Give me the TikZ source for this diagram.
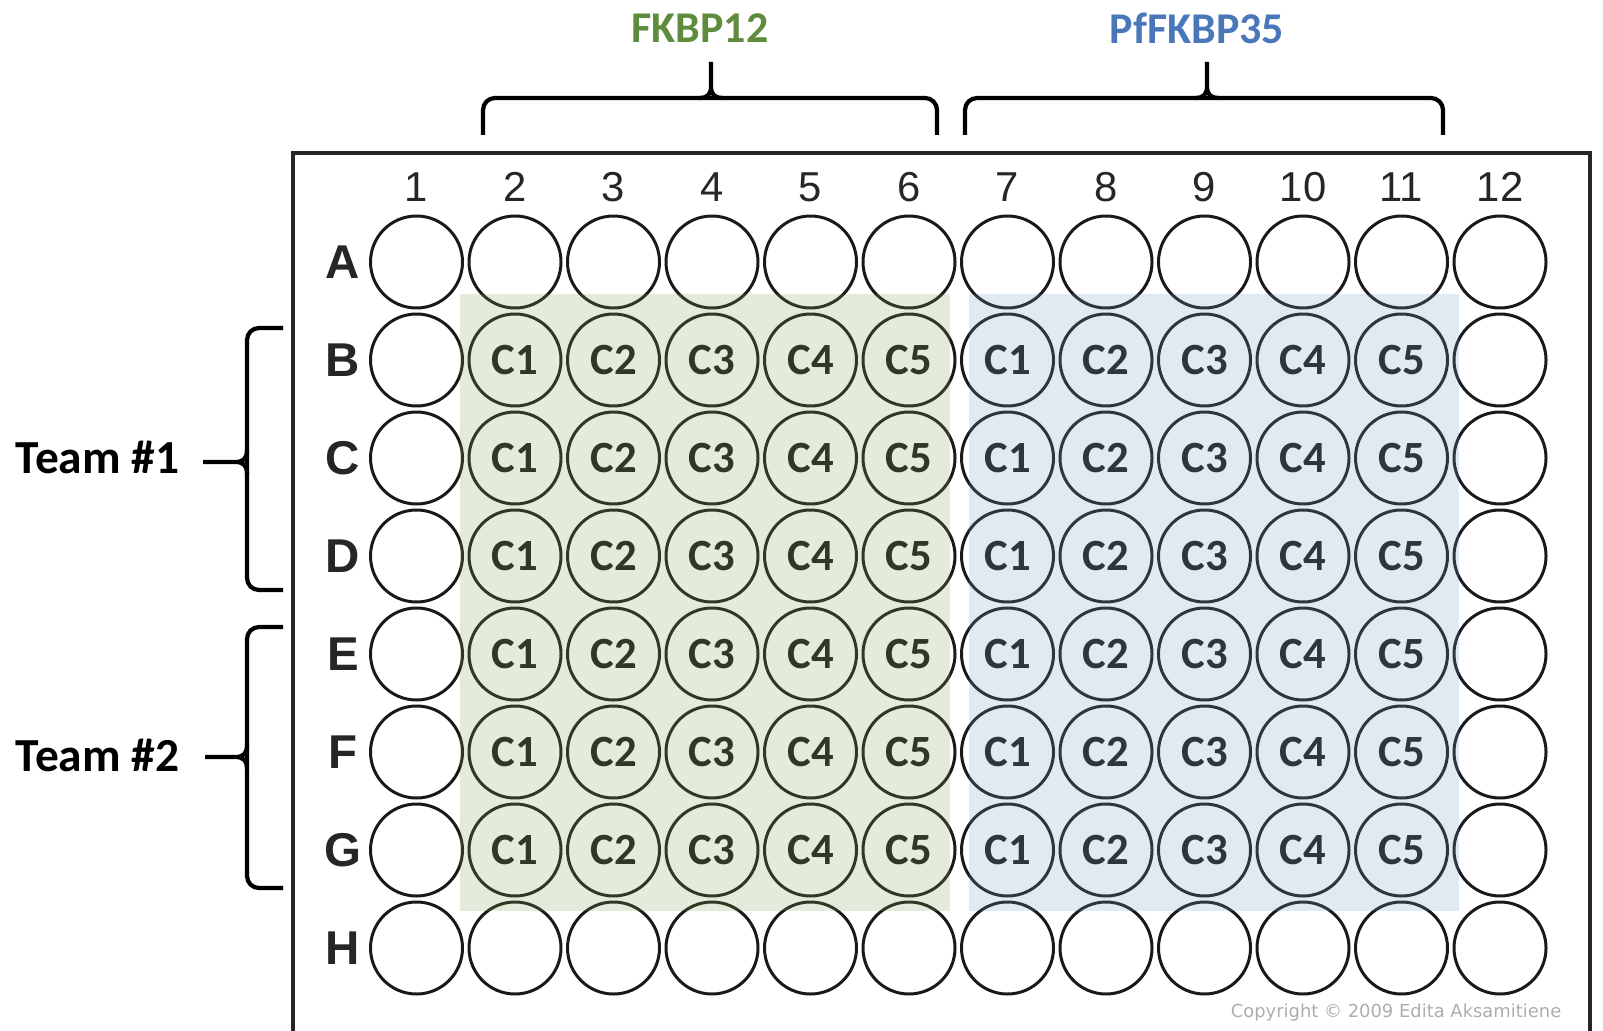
\documentclass[tikz,border=0pt]{standalone}
\usepackage{fontspec}
\setmainfont{Liberation Sans}
\newfontfamily\labelfont{Carlito}
\newfontfamily\copyfont{DejaVu Sans}
\usetikzlibrary{calc}
\definecolor{fkgreen}{RGB}{95,139,60}
\definecolor{pfblue}{RGB}{74,119,185}
\definecolor{fkshade}{RGB}{135,165,85}
\definecolor{pfshade}{RGB}{120,155,200}

\begin{document}
\begin{tikzpicture}[
    well/.style={circle, draw=black!90, line width=0.85pt, minimum size=0.92cm, inner sep=0pt},
    clabel/.style={font=\labelfont\bfseries\fontsize{12.7}{14}\selectfont, text=black!90},
    colnum/.style={font=\fontsize{11.9}{14}\selectfont, text=black!85},
    rowlet/.style={font=\bfseries\fontsize{13.5}{16}\selectfont, text=black!85},
    team/.style={font=\labelfont\bfseries\fontsize{13.5}{16}\selectfont},
    protein/.style={font=\labelfont\bfseries\fontsize{12.5}{15}\selectfont},
    bracket/.style={line width=1.2pt, rounded corners=0.12cm},
    tip/.style={line width=1.2pt}
  ]
    \useasboundingbox (0,0) rectangle (16.03,10.30);
    \clip (0,0) rectangle (16.03,10.30);

    % Plate outline
    \draw[line width=0.9pt, black!85] (2.93,-0.5) -- (2.93,8.77) -- (15.90,8.77) -- (15.90,-0.5);

    % Column numbers
    \foreach \col in {1,...,12}
      \node[colnum] (col\col) at ({4.165+(\col-1)*0.985}, 8.43) {\col};

    % Rows of wells
    \foreach \row [count=\i] in {A,B,C,D,E,F,G,H} {
      \node[rowlet] (row\row) at (3.43, {7.68-(\i-1)*0.98}) {\row};
      \foreach \col in {1,...,12}
        \node[well] (\row\col) at ({4.165+(\col-1)*0.985}, {7.68-(\i-1)*0.98}) {};
    }

    % Compounds C1-C5
    \foreach \row in {B,C,D,E,F,G} {
      \foreach \k [evaluate=\k as \left using int(\k+1), evaluate=\k as \right using int(\k+6)] in {1,...,5} {
        \node[clabel] (l\row\left) at (\row\left) {C\k};
        \node[clabel] (l\row\right) at (\row\right) {C\k};
      }
    }

    % Shaded blocks
    \fill[fkshade, fill opacity=0.22] (4.60,1.19) rectangle (9.50,7.36);
    \fill[pfshade, fill opacity=0.22] (9.69,1.19) rectangle (14.59,7.36);

    % Protein labels and braces
    \node[protein, text=fkgreen] (fkbp) at (7.00,10.015) {FKBP12};
    \node[protein, text=pfblue] (pffkbp) at (11.97,10.015) {PfFKBP35};

    \draw[bracket] (4.83,8.95) -- (4.83,9.32) -- (9.37,9.32) -- (9.37,8.95);
    \draw[tip] (6.99,9.32) .. controls (7.08,9.32) and (7.11,9.36) .. (7.11,9.44) -- (7.11,9.68)
      .. controls (7.11,9.68) .. (7.11,9.44) .. controls (7.11,9.36) and (7.14,9.32) .. (7.23,9.32);
    \draw[bracket] (9.65,8.95) -- (9.65,9.32) -- (14.43,9.32) -- (14.43,8.95);
    \draw[tip] (11.95,9.32) .. controls (12.04,9.32) and (12.07,9.36) .. (12.07,9.44) -- (12.07,9.68)
      .. controls (12.07,9.68) .. (12.07,9.44) .. controls (12.07,9.36) and (12.10,9.32) .. (12.19,9.32);

    % Teams
    \node[team] (team1) at (0.975,5.725) {Team \#1};
    \node[team] (team2) at (0.975,2.75) {Team \#2};

    \draw[bracket] (2.83,7.02) -- (2.47,7.02) -- (2.47,4.40) -- (2.83,4.40);
    \draw[tip] (2.47,5.80) .. controls (2.47,5.71) and (2.43,5.68) .. (2.35,5.68) -- (2.03,5.68)
      .. controls (2.03,5.68) .. (2.35,5.68) .. controls (2.43,5.68) and (2.47,5.65) .. (2.47,5.56);
    \draw[bracket] (2.83,4.03) -- (2.47,4.03) -- (2.47,1.42) -- (2.83,1.42);
    \draw[tip] (2.47,2.85) .. controls (2.47,2.76) and (2.43,2.73) .. (2.35,2.73) -- (2.05,2.73)
      .. controls (2.05,2.73) .. (2.35,2.73) .. controls (2.43,2.73) and (2.47,2.70) .. (2.47,2.61);

    % Copyright
    \node[font=\copyfont\fontsize{5.1}{7}\selectfont, text=black!32, anchor=east, inner sep=0pt] (copy) at (15.62,0.17) {Copyright © 2009 Edita Aksamitiene};
  \end{tikzpicture}
\end{document}
